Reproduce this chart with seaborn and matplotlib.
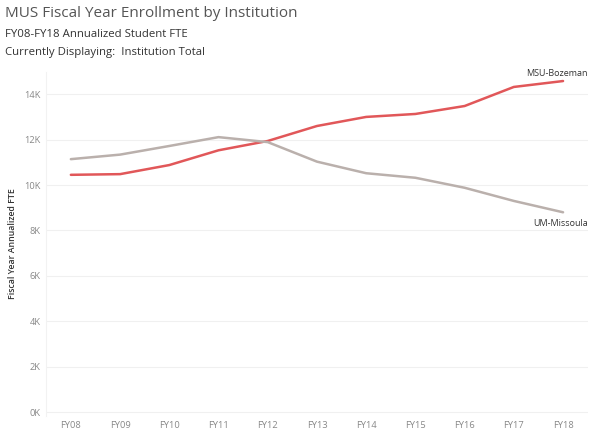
import matplotlib
matplotlib.use("Agg")
import matplotlib.pyplot as plt
import seaborn as sns
import pandas as pd

years = ["FY08", "FY09", "FY10", "FY11", "FY12", "FY13", "FY14", "FY15", "FY16", "FY17", "FY18"]
msu_bozeman = [10450, 10480, 10880, 11530, 11940, 12600, 13000, 13130, 13480, 14320, 14580]
um_missoula = [11140, 11340, 11720, 12110, 11890, 11030, 10520, 10320, 9880, 9300, 8800]
institutions = ["MSU-Bozeman", "UM-Missoula"]
colors = {"MSU-Bozeman": "#e15759", "UM-Missoula": "#bab0ac"}

df = pd.DataFrame({
    "year": years * 2,
    "fte": msu_bozeman + um_missoula,
    "inst": [institutions[0]] * len(years) + [institutions[1]] * len(years),
})

sns.set_style("white")
plt.rcParams["font.family"] = ["Open Sans", "DejaVu Sans"]

fig = plt.figure(figsize=(5.93, 4.36), dpi=100)
ax = fig.add_axes([0.078, 0.047, 0.913, 0.789])

sns.lineplot(data=df, x="year", y="fte", hue="inst", palette=colors,
             linewidth=1.8, legend=False, ax=ax, sort=False)

ax.set_xlim(-0.5, 10.5)
ax.set_ylim(-150, 15000)
ax.set_yticks(range(0, 15000, 2000))
ax.set_yticklabels([f"{v // 1000}K" for v in range(0, 15000, 2000)])
ax.grid(axis="y", color="#f0f0f0", linewidth=0.8)
ax.set_axisbelow(True)
for s in ["top", "right", "bottom"]:
    ax.spines[s].set_visible(False)
ax.spines["left"].set_color("#f2f2f2")
ax.tick_params(axis="both", length=0, labelsize=6.7, colors="#888888", pad=4)
ax.set_xlabel("")
ax.set_ylabel("Fiscal Year Annualized FTE", fontsize=6.3, color="#333333",
              fontweight="semibold", labelpad=5)

# end labels
ax.annotate("MSU-Bozeman", xy=(10, msu_bozeman[-1]), xytext=(18, 5.5),
            textcoords="offset points", ha="right", va="center",
            fontsize=6.5, color="#333333")
ax.annotate("UM-Missoula", xy=(10, um_missoula[-1]), xytext=(18, -8),
            textcoords="offset points", ha="right", va="center",
            fontsize=6.5, color="#333333")

fig.text(0.008, 0.97, "MUS Fiscal Year Enrollment by Institution", fontsize=11,
         color="#555555", va="center")
fig.text(0.008, 0.92, "FY08-FY18 Annualized Student FTE", fontsize=8.2,
         color="#333333", va="center")
fig.text(0.008, 0.88, "Currently Displaying:  Institution Total", fontsize=8.2,
         color="#333333", va="center")

fig.savefig("out.png", dpi=100)
